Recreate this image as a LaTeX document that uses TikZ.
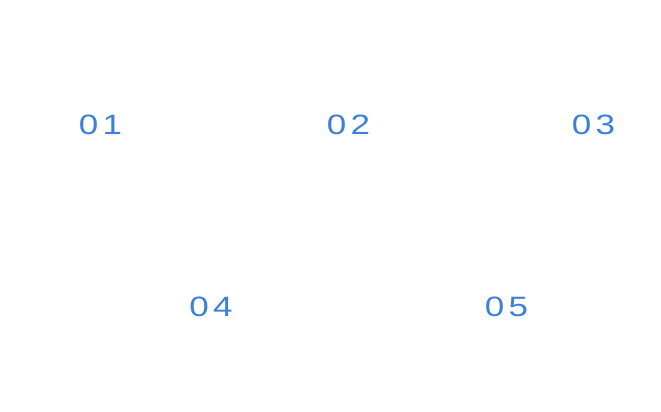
\documentclass[tikz,border=0pt]{standalone}
\usepackage{fontspec}
\setmainfont{Liberation Sans}[LetterSpace=12]
\definecolor{numblue}{RGB}{60,128,216}
\tikzset{num/.style={text=numblue,inner sep=0pt,font=\fontsize{28bp}{28bp}\selectfont,xscale=1.25}}
\begin{document}
\begin{tikzpicture}[x=1bp,y=-1bp]
\useasboundingbox (0,0) rectangle (661,411);
\node[num] (n1) at (100.5,124.5) {01};
\node[num] (n2) at (348.5,124.5) {02};
\node[num] (n3) at (593.5,124.5) {03};
\node[num] (n4) at (211,307) {04};
\node[num] (n5) at (506.5,307) {05};
\end{tikzpicture}
\end{document}
